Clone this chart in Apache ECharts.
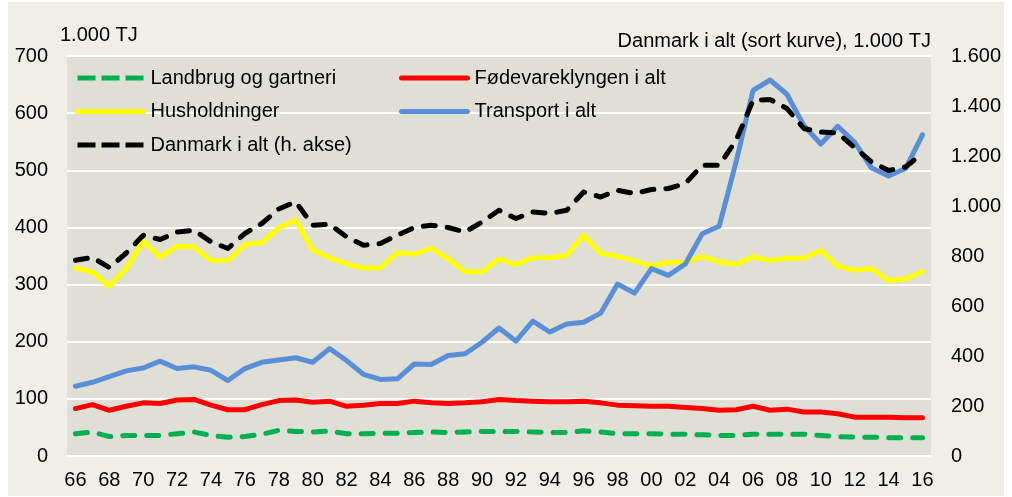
<!DOCTYPE html>
<html lang="da">
<head>
<meta charset="UTF-8">
<title>Energiforbrug 1966-2016</title>
<script src="https://cdn.jsdelivr.net/npm/echarts@6/dist/echarts.min.js"></script>
<style>
    html, body { margin: 0; padding: 0; background: #fff; }
    #main { position: absolute; left: 8px; top: 2px; width: 996px; height: 494px; background: #efeee8; }
</style>
</head>
<body>
<div id="main"></div>
<script>
    // år 1966-2016
    var aar = ['66','67','68','69','70','71','72','73','74','75',
               '76','77','78','79','80','81','82','83','84','85',
               '86','87','88','89','90','91','92','93','94','95',
               '96','97','98','99','00','01','02','03','04','05',
               '06','07','08','09','10','11','12','13','14','15','16'];

    // 1.000 TJ, venstre akse
    var landbrug = [39,42,34,36,36,36,39,42,36,33,
                    34,38,45,43,42,44,39,39,40,40,
                    41,42,41,42,43,43,43,42,41,41,
                    44,42,39,39,39,38,38,37,36,36,
                    38,38,38,38,36,34,33,33,32,32,32];
    var foedevare = [83,90,80,87,93,92,98,99,89,81,
                     81,90,97,98,94,96,87,89,92,92,
                     96,93,92,93,95,99,97,96,95,95,
                     96,93,89,88,87,87,85,83,80,81,
                     87,80,82,77,77,74,68,68,68,67,67];
    var husholdninger = [329,322,297,328,376,348,367,366,342,342,
                         370,373,399,413,361,347,336,329,329,356,
                         353,364,345,323,322,345,335,347,347,351,
                         386,355,349,342,332,339,339,349,340,335,
                         349,342,346,346,360,332,325,328,307,310,323];
    var transport = [122,129,139,149,154,166,153,156,150,132,
                     153,164,168,172,164,188,167,143,134,135,
                     161,160,176,179,199,224,201,236,217,231,
                     234,250,301,285,328,316,336,389,402,515,
                     640,658,633,578,546,577,549,504,490,503,562];
    // 1.000 TJ, højre akse
    var danmark = [783,794,754,812,883,866,896,903,857,830,
                   890,930,988,1017,923,927,877,843,850,883,
                   914,923,914,896,936,983,950,976,970,983,
                   1056,1036,1063,1050,1066,1070,1090,1163,1163,1263,
                   1423,1426,1390,1310,1296,1292,1233,1176,1142,1156,1210];

    var navne = ['Landbrug og gartneri', 'Fødevareklyngen i alt', 'Husholdninger',
                 'Transport i alt', 'Danmark i alt (h. akse)'];
    var farver = ['#00b050', '#ff0000', '#ffff00', '#5a8fd8', '#000000'];

    var font = '"Liberation Sans", Arial, sans-serif';

    function punktum(v) {
        if (v >= 1000) {
            var r = String(v % 1000);
            while (r.length < 3) r = '0' + r;
            return Math.floor(v / 1000) + '.' + r;
        }
        return String(v);
    }

    function linje(navn, data, farve, stiplet, akse) {
        return {
            name: navn,
            type: 'line',
            yAxisIndex: akse,
            data: data,
            symbol: 'none',
            smooth: false,
            lineStyle: { color: farve, width: 5, type: stiplet ? [12, 12] : 'solid', cap: 'round', join: 'round' },
            itemStyle: { color: farve },
            emphasis: { disabled: true }
        };
    }

    // stiplet legend-ikon: tre streger som i originalen
    function stipletIkon(navn) {
        return { name: navn, lineStyle: { type: [18, 6], cap: 'butt' } };
    }

    var myChart = echarts.init(document.getElementById('main'));
    var legendTekst = { fontSize: 20, color: '#000', fontFamily: font, padding: [0, 0, 0, 2] };
    // fælles for begge legend-kolonner
    var legendFaelles = {
        top: 66, orient: 'vertical', padding: 0,
        itemWidth: 66, itemHeight: 20, itemGap: 13.5,
        itemStyle: { opacity: 0 },
        lineStyle: { width: 5, cap: 'round' },
        textStyle: legendTekst
    };

    var option = {
        animation: false,
        textStyle: { fontFamily: font },
        grid: {
            left: 59, right: 72, top: 54, bottom: 40,
            show: true, backgroundColor: '#dfdfd5', borderWidth: 0
        },
        graphic: [
            { type: 'text', left: 52, top: 23, style: { text: '1.000 TJ', font: '20px ' + font, fill: '#000' } },
            { type: 'text', right: 73, top: 29, style: { text: 'Danmark i alt (sort kurve), 1.000 TJ', font: '20px ' + font, fill: '#000' } }
        ],
        legend: [
            Object.assign({ left: 67, data: [stipletIkon(navne[0]), navne[2], stipletIkon(navne[4])] }, legendFaelles),
            Object.assign({ left: 391, data: [navne[1], navne[3]] }, legendFaelles)
        ],
        xAxis: {
            type: 'category',
            data: aar,
            boundaryGap: true,
            axisLine: { show: false },
            axisTick: { show: false },
            axisLabel: { interval: 1, fontSize: 20, color: '#000', margin: 14 }
        },
        yAxis: [
            {
                type: 'value', min: 0, max: 700, interval: 100,
                axisLine: { show: false }, axisTick: { show: false },
                axisLabel: { fontSize: 20, color: '#000', margin: 19 },
                splitLine: { lineStyle: { color: '#ffffff', width: 2 } }
            },
            {
                type: 'value', min: 0, max: 1600, interval: 200,
                axisLine: { show: false }, axisTick: { show: false },
                axisLabel: { fontSize: 20, color: '#000', margin: 20, formatter: punktum },
                splitLine: { show: false }
            }
        ],
        series: [
            linje(navne[0], landbrug, farver[0], true, 0),
            linje(navne[1], foedevare, farver[1], false, 0),
            linje(navne[2], husholdninger, farver[2], false, 0),
            linje(navne[3], transport, farver[3], false, 0),
            linje(navne[4], danmark, farver[4], true, 1)
        ]
    };
    myChart.setOption(option);
</script>
</body>
</html>
